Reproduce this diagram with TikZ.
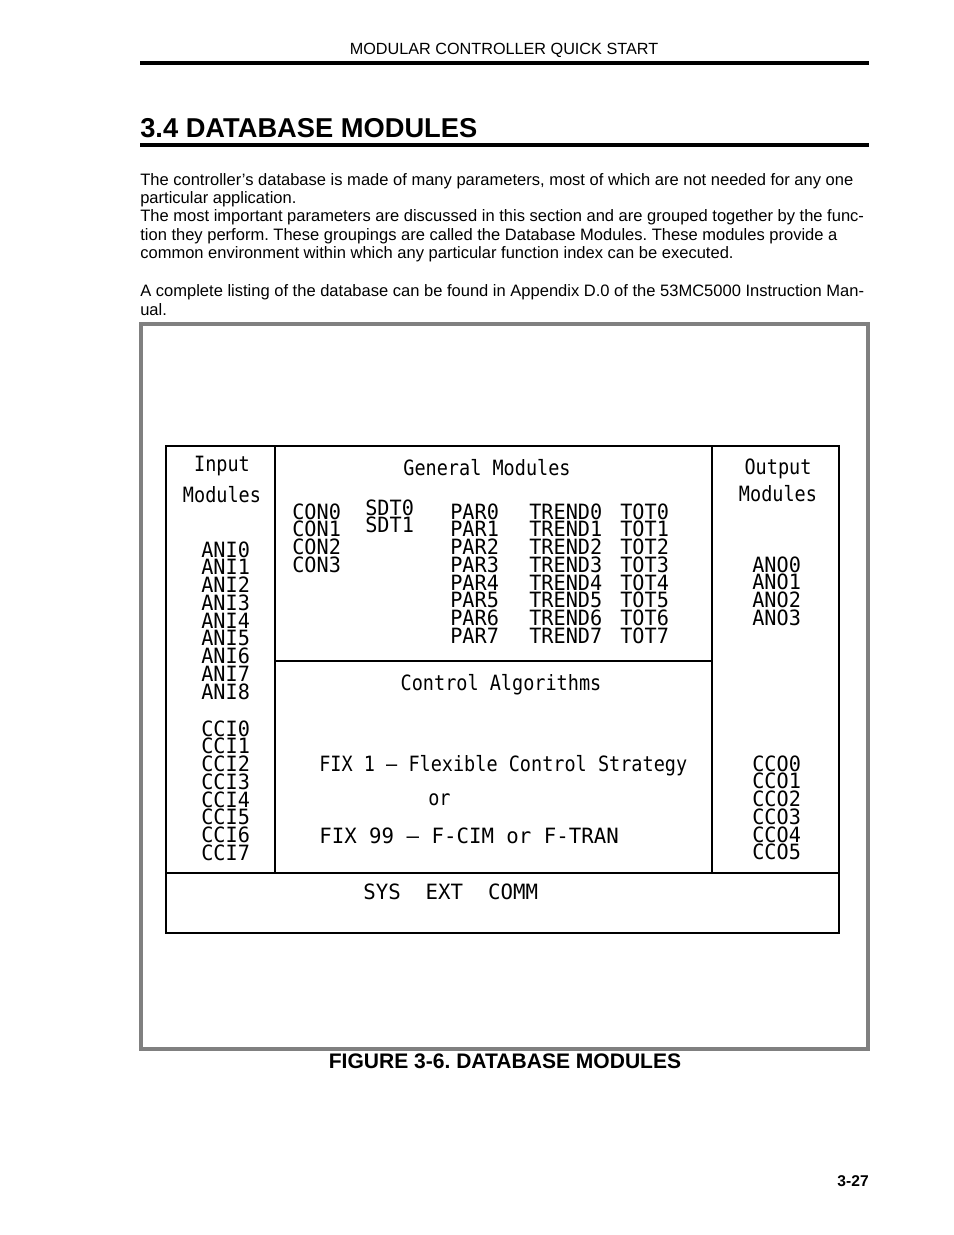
\documentclass[tikz,border=0pt]{standalone}
\usepackage{fontspec}
\setmainfont{Liberation Sans}
\newfontfamily\plotcaps[FakeStretch=0.96]{DejaVu Sans Mono}
\newfontfamily\plotmixed[FakeStretch=0.88]{DejaVu Sans Mono}
\newfontfamily\plotwide[FakeStretch=0.985]{DejaVu Sans Mono}
\frenchspacing
\begin{document}
\begin{tikzpicture}[x=0.6415pt,y=-0.6415pt,
  dtext/.style={font=\plotcaps\fontsize{13.5}{14}\selectfont, inner sep=0pt, anchor=base west},
  dmixed/.style={dtext, font=\plotmixed\fontsize{13.5}{14}\selectfont},
  dmixedc/.style={dmixed, anchor=base},
  dwide/.style={dtext, font=\plotwide\fontsize{13.5}{14}\selectfont},
  dline/.style={line width=0.9pt, black},
  body/.style={font=\fontsize{10.6}{12}\selectfont, inner sep=0pt, anchor=base west},
  rulebar/.style={line width=2pt, black},
  framebox/.style={line width=2pt, draw=black!50}]
\useasboundingbox (0,0) rectangle (954,1235);
% page header
\node[font=\fontsize{10.4}{12}\selectfont, inner sep=0pt, anchor=base] (hdr) at (504,54) {MODULAR CONTROLLER QUICK START};
\draw[rulebar] (140,63) -- (869,63);
\node[font=\bfseries\fontsize{17.5}{20}\selectfont, inner sep=0pt, anchor=base west] (title) at (140,137) {3.4 DATABASE MODULES};
\draw[rulebar] (140,145) -- (869,145);
% body text
\node[body] (b1) at (140,185) {The controller’s database is made of many parameters, most of which are not needed for any one};
\node[body] (b2) at (140,203.5) {particular application.};
\node[body] (b3) at (140,221.8) {The most important parameters are discussed in this section and are grouped together by the func-};
\node[body] (b4) at (140,240) {tion they perform. These groupings are called the Database Modules. These modules provide a};
\node[body] (b5) at (140,258.5) {common environment within which any particular function index can be executed.};
\node[body] (b6) at (140,296.5) {A complete listing of the database can be found in Appendix D.0 of the 53MC5000 Instruction Man-};
\node[body] (b7) at (140,315) {ual.};
% figure frame
\draw[framebox] (141,324) rectangle (868,1049);
% diagram boxes
\draw[dline] (166,446) rectangle (839,933);
\draw[dline] (275,446) -- (275,873);
\draw[dline] (712,446) -- (712,873);
\draw[dline] (275,661) -- (712,661);
\draw[dline] (166,873) -- (839,873);
% input modules
\node[dmixedc] (inp1) at (222,471) {Input};
\node[dmixedc] (inp2) at (222,502) {Modules};
\foreach \i in {0,...,8} \node[dtext] (ani\i) at (201,557+17.75*\i) {ANI\i};
\foreach \i in {0,...,7} \node[dtext] (cci\i) at (201,736+17.75*\i) {CCI\i};
% general modules
\node[dmixedc] (gen) at (487,475) {General~Modules};
\foreach \i in {0,...,3} \node[dtext] (con\i) at (292,519+17.75*\i) {CON\i};
\foreach \i in {0,1} \node[dtext] (sdt\i) at (365,515+17*\i) {SDT\i};
\foreach \i in {0,...,7} {
  \node[dtext] (par\i) at (450,519+17.75*\i) {PAR\i};
  \node[dtext] (trend\i) at (529,519+17.75*\i) {TREND\i};
  \node[dtext] (tot\i) at (620,519+17.75*\i) {TOT\i};
}
% output modules
\node[dmixedc] (out1) at (778,474) {Output};
\node[dmixedc] (out2) at (778,501) {Modules};
\foreach \i in {0,...,3} \node[dtext] (ano\i) at (752,572+17.75*\i) {ANO\i};
\foreach \i in {0,...,5} \node[dtext] (cco\i) at (752,771+17.75*\i) {CCO\i};
% control algorithms
\node[dmixedc] (ctl) at (501,690) {Control~Algorithms};
\node[dmixed] (fix1) at (319,771) {FIX~1~–~Flexible~Control~Strategy};
\node[dmixed] (or) at (428,805) {or};
\node[dwide] (fix99) at (319,843) {FIX~99~–~F-CIM~or~F-TRAN};
\node[dwide] (sys) at (363,899) {SYS~~EXT~~COMM};
% caption and page number
\node[font=\bfseries\fontsize{13.5}{15}\selectfont, inner sep=0pt, anchor=base] (cap) at (505,1068) {FIGURE 3-6. DATABASE MODULES};
\node[font=\bfseries\fontsize{10}{12}\selectfont, inner sep=0pt, anchor=base east] (pg) at (869,1186) {3-27};
\end{tikzpicture}
\end{document}
